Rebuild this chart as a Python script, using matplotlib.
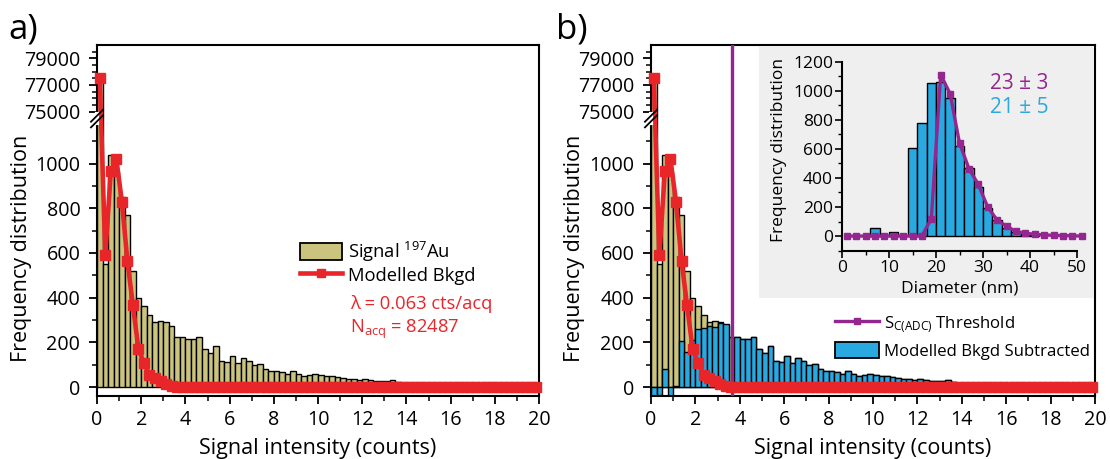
import numpy as np
import matplotlib
matplotlib.use("Agg")
import matplotlib.pyplot as plt
from matplotlib.ticker import FixedLocator, FuncFormatter, NullFormatter, MultipleLocator
from matplotlib.lines import Line2D
from matplotlib.patches import Patch

plt.rcParams['font.family'] = ['Open Sans', 'DejaVu Sans']
plt.rcParams['mathtext.default'] = 'regular'

# ---- data ----
bin_width = 0.25
bin_left = np.arange(80) * bin_width
bin_mid = bin_left + bin_width / 2

signal_au = [77400, 550, 1040, 960, 850, 770, 520, 400, 363, 323,
             289, 296, 292, 274, 222, 222, 217, 214, 226, 170,
             152, 185, 116, 113, 137, 107, 129, 115, 100, 103,
             83, 70, 74, 68, 58, 73, 58, 50, 55, 58,
             52, 50, 48, 45, 40, 38, 35, 33, 35, 30,
             28, 26, 28, 32, 22, 15, 10, 8, 6, 18,
             12, 5, 4, 3, 3, 2, 2, 2, 1, 1,
             1, 1, 0, 0, 0, 0, 0, 0, 0, 0]

model_bkgd = [77500, 590, 965, 1020, 830, 565, 365, 170, 107, 55,
              40, 28, 12, 5, 2, 1, 0, 0, 0, 0,
              0, 0, 0, 0, 0, 0, 0, 0, 0, 0,
              0, 0, 0, 0, 0, 0, 0, 0, 0, 0,
              0, 0, 0, 0, 0, 0, 0, 0, 0, 0,
              0, 0, 0, 0, 0, 0, 0, 0, 0, 0,
              0, 0, 0, 0, 0, 0, 0, 0, 0, 0,
              0, 0, 0, 0, 0, 0, 0, 0, 0, 0]

subtracted = [-46, -35, 80, -39, 5, 207, 158, 212, 260, 266,
              272, 270, 285, 280, 0, 222, 217, 214, 226, 170,
              152, 185, 116, 113, 137, 107, 129, 115, 100, 103,
              83, 70, 74, 68, 58, 73, 58, 50, 55, 58,
              52, 50, 48, 45, 40, 38, 35, 33, 35, 30,
              28, 26, 28, 32, 22, 15, 10, 8, 6, 18,
              12, 5, 4, 3, 3, 2, 2, 2, 1, 1,
              1, 1, 0, 0, 0, 0, 0, 0, 0, 0]

threshold = 3.63

# inset: size distribution
diam_mid = [7, 11, 15, 17, 19, 21, 23, 25, 27, 29, 31, 33, 35, 37, 39, 41]
diam_count = [55, 30, 605, 775, 1055, 1060, 950, 620, 470, 340, 190, 110, 55, 30, 15, 5]
thr_x = [1, 3, 5, 7, 9, 11, 13, 15, 17, 19, 21, 23, 25, 27, 29, 31, 33,
         35, 37, 39, 41, 43, 45, 47, 49, 51]
thr_y = [0, 0, 0, 0, 0, 0, 0, 0, 0, 120, 1110, 980, 640, 465, 355, 200, 110,
         68, 32, 20, 12, 8, 5, 3, 2, 0]

c_sig = "#cbc47f"
c_red = "#e8262a"
c_blue = "#29a9df"
c_purple = "#93278f"

# ---- broken y axis as a piecewise linear scale ----
seg_val = [-40, 1200, 74500, 80000]
seg_pos = [0.0, 278.0, 278.5, 352.0]
lo_slope = 278.0 / 1240
hi_slope = 73.5 / 5500


def fwd(y):
    y = np.asarray(y, dtype=float)
    out = np.interp(y, seg_val, seg_pos)
    out = np.where(y < seg_val[0], (y - seg_val[0]) * lo_slope, out)
    out = np.where(y > seg_val[-1], seg_pos[-1] + (y - seg_val[-1]) * hi_slope, out)
    return out


def inv(p):
    p = np.asarray(p, dtype=float)
    out = np.interp(p, seg_pos, seg_val)
    out = np.where(p < seg_pos[0], seg_val[0] + p / lo_slope, out)
    out = np.where(p > seg_pos[-1], seg_val[-1] + (p - seg_pos[-1]) / hi_slope, out)
    return out


fig = plt.figure(figsize=(11.1, 4.59), dpi=100)
W, H = 1110, 459


def style_main(ax):
    ax.set_yscale('function', functions=(fwd, inv))
    ax.set_ylim(-40, 80000)
    ax.set_xlim(0, 20)
    ax.yaxis.set_major_locator(FixedLocator([0, 200, 400, 600, 800, 1000, 75000, 77000, 79000]))
    ax.yaxis.set_minor_locator(FixedLocator([100, 300, 500, 700, 900, 1100,
                                             75500, 76000, 76500, 77500, 78000, 78500, 79500]))
    ax.yaxis.set_major_formatter(FuncFormatter(lambda v, p: f"{v:.0f}"))
    ax.yaxis.set_minor_formatter(NullFormatter())
    ax.xaxis.set_major_locator(MultipleLocator(2))
    ax.xaxis.set_minor_locator(MultipleLocator(1))
    ax.tick_params(which='major', direction='out', length=6, width=1.3, labelsize=14.2, pad=4)
    ax.tick_params(axis='y', which='major', pad=6)
    ax.tick_params(which='minor', direction='out', length=3.5, width=1.1)
    for s in ax.spines.values():
        s.set_linewidth(1.5)
    ax.set_xlabel("Signal intensity (counts)", fontsize=15.5)
    ax.xaxis.set_label_coords(0.5, -0.12)
    ax.set_ylabel("Frequency distribution", fontsize=15.5)
    # break marks on the left axis
    f = 278.25 / 352
    dx, dy = 6 / 442, 6 / 351
    ax.plot([0, 0], [f - 0.012, f + 0.012], color='white', lw=3, transform=ax.transAxes,
            clip_on=False, zorder=5)
    for off in (-0.008, 0.008):
        ax.plot([-dx, dx], [f + off - dy, f + off + dy], color='black', lw=1.3,
                transform=ax.transAxes, clip_on=False, zorder=6)


# ---- panel a ----
ax_a = fig.add_axes([97 / W, 1 - 396 / H, 442 / W, 351 / H])
style_main(ax_a)
ax_a.yaxis.set_label_coords(-0.148, 0.42)
ax_a.bar(bin_left, signal_au, width=bin_width, align='edge', color=c_sig,
         edgecolor='black', linewidth=1.0, zorder=2)
ax_a.plot(bin_mid, model_bkgd, color=c_red, lw=3.3, marker='s', ms=6.5, zorder=4,
          clip_on=False)
ax_a.legend(handles=[Patch(facecolor=c_sig, edgecolor='black', lw=1.3),
                     Line2D([], [], color=c_red, lw=3.3, marker='s', ms=6)],
            labels=["Signal $^{197}$Au", "Modelled Bkgd"],
            loc='upper left', bbox_to_anchor=(0.459, 0.445), frameon=False,
            fontsize=13.2, borderpad=0, labelspacing=0.12, handlelength=2.3,
            handleheight=1.0, handletextpad=0.3, borderaxespad=0)
ax_a.text(0.572, 0.262, "λ = 0.063 cts/acq", color=c_red, fontsize=13.2,
          transform=ax_a.transAxes, va='center')
ax_a.text(0.572, 0.190, "N$_{acq}$ = 82487", color=c_red, fontsize=13.2,
          transform=ax_a.transAxes, va='center')

# ---- panel b ----
ax_b = fig.add_axes([651 / W, 1 - 396 / H, 444 / W, 351 / H])
style_main(ax_b)
ax_b.yaxis.set_label_coords(-0.148, 0.42)
ax_b.bar(bin_left, signal_au, width=bin_width, align='edge', color=c_sig,
         edgecolor='black', linewidth=1.0, zorder=2)
ax_b.bar(bin_left, subtracted, width=bin_width, align='edge', color=c_blue,
         edgecolor='black', linewidth=1.0, zorder=2.5)
ax_b.axvline(threshold, color=c_purple, lw=2.4, zorder=3)
ax_b.plot(bin_mid, model_bkgd, color=c_red, lw=3.3, marker='s', ms=6.5, zorder=4,
          clip_on=False)
ax_b.legend(handles=[Line2D([], [], color=c_purple, lw=2.4, marker='s', ms=5),
                     Patch(facecolor=c_blue, edgecolor='black', lw=1.3)],
            labels=["S$_{C(ADC)}$ Threshold", "Modelled Bkgd Subtracted"],
            loc='upper left', bbox_to_anchor=(0.414, 0.233), frameon=False,
            fontsize=12.1, borderpad=0, labelspacing=0.42, handlelength=2.6,
            handleheight=1.1, handletextpad=0.3, borderaxespad=0)

# grey inset background
bg = fig.add_axes([759 / W, 1 - 298 / H, (1094 - 759) / W, (298 - 46) / H])
bg.set_facecolor("#efefef")
bg.set_xticks([])
bg.set_yticks([])
for s in bg.spines.values():
    s.set_visible(False)

# ---- inset ----
ax_in = fig.add_axes([842 / W, 1 - 250.6 / H, 235 / W, 188.9 / H])
ax_in.set_facecolor('none')
ax_in.bar(diam_mid, diam_count, width=2, color=c_blue, edgecolor='black', linewidth=1.0)
ax_in.plot(thr_x, thr_y, color=c_purple, lw=2.4, marker='s', ms=4.5, clip_on=False)
ax_in.set_xlim(0, 50)
ax_in.set_ylim(-100, 1200)
ax_in.spines['top'].set_visible(False)
ax_in.spines['right'].set_visible(False)
for s in ('left', 'bottom'):
    ax_in.spines[s].set_linewidth(1.5)
ax_in.xaxis.set_major_locator(MultipleLocator(10))
ax_in.xaxis.set_minor_locator(MultipleLocator(5))
ax_in.yaxis.set_major_locator(MultipleLocator(200))
ax_in.yaxis.set_minor_locator(MultipleLocator(100))
ax_in.tick_params(which='major', direction='out', length=5, width=1.2, labelsize=12.5, pad=1.5)
ax_in.tick_params(which='minor', direction='out', length=3, width=1.0)
ax_in.set_xlabel("Diameter (nm)", fontsize=12.5)
ax_in.xaxis.set_label_coords(0.5, -0.16)
ax_in.set_ylabel("Frequency distribution", fontsize=12.5)
ax_in.yaxis.set_label_coords(-0.235, 0.53)
ax_in.text(31.5, 1053, "23 ± 3", color=c_purple, fontsize=15, va='center')
ax_in.text(31.5, 888, "21 ± 5", color=c_blue, fontsize=15, va='center')

# panel letters
fig.text(8 / W, 1 - 30 / H, "a)", fontsize=25, va='center')
fig.text(556 / W, 1 - 30 / H, "b)", fontsize=25, va='center')

fig.savefig("out.png", dpi=100)
